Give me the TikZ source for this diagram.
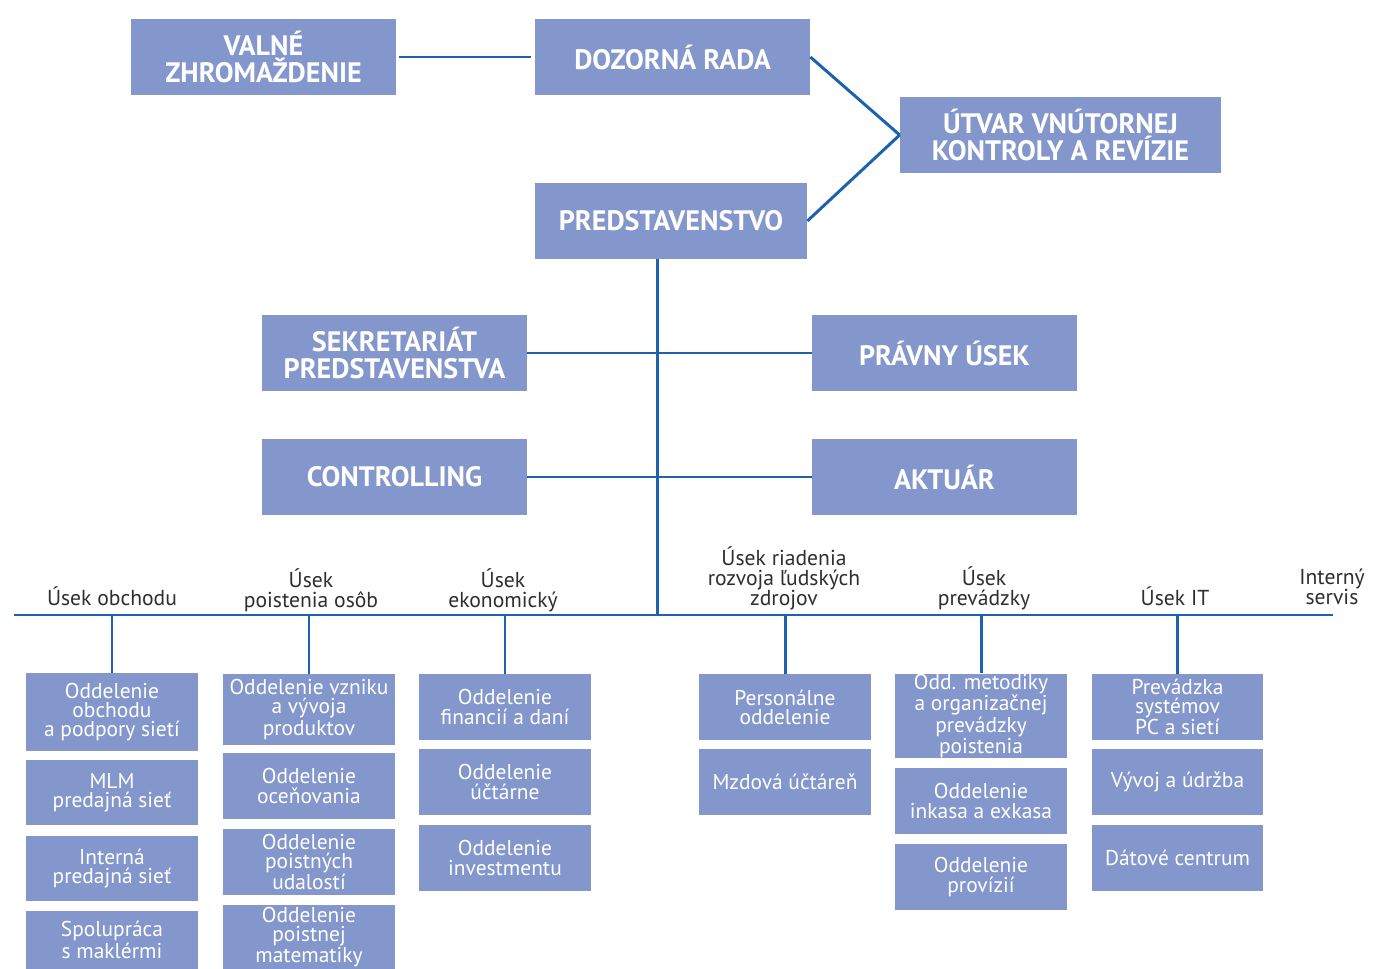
\documentclass[tikz,border=0pt]{standalone}
\usepackage{fontspec}
\setmainfont{PT Sans}
\usetikzlibrary{calc}
\definecolor{boxfill}{HTML}{8497CD}
\definecolor{linkblue}{HTML}{1E62AF}
\definecolor{labeldark}{HTML}{2E2E2E}
\newcommand{\headfont}{\fontsize{16}{15.3}\selectfont\bfseries}
\newcommand{\deptfont}{\fontsize{12.2}{10.9}\selectfont}
\newcommand{\usekfont}{\fontsize{12.3}{11.4}\selectfont}

\begin{document}
\begin{tikzpicture}[
    x=0.02cm, y=-0.02cm,
    headbox/.style={fill=boxfill, text=white, font=\headfont, align=center,
        inner sep=0pt, minimum width=5.3cm, minimum height=1.52cm},
    deptbox/.style={fill=boxfill, text=white, font=\deptfont, align=center,
        inner sep=0pt, minimum width=3.44cm},
    usek/.style={text=labeldark, font=\usekfont, align=center,
        anchor=south, inner sep=0pt, text depth=0pt},
    link/.style={linkblue, line width=1.7pt}
]

\useasboundingbox (0,0) rectangle (1373,969);

% Board level
\node[headbox] (valne) at (263.5,57) {VALNÉ\\ZHROMAŽDENIE};
\node[headbox, minimum width=5.5cm] (dozorna) at (672.5,57) {DOZORNÁ RADA};
\node[headbox, minimum width=6.42cm] (utvar) at (1060.5,135) {ÚTVAR VNÚTORNEJ\\KONTROLY A REVÍZIE};
\node[headbox, minimum width=5.44cm] (predst) at (671,221) {PREDSTAVENSTVO};

\draw[link, shorten <=0.06cm, shorten >=0.08cm] (valne) -- (dozorna);
\draw[link] (dozorna.east) -- (utvar.west);
\draw[link] (predst.east) -- (utvar.west);

% Staff units
\node[headbox] (sekret) at (394.5,353) {SEKRETARIÁT\\PREDSTAVENSTVA};
\node[headbox] (pravny) at (944.5,353) {PRÁVNY ÚSEK};
\node[headbox] (controlling) at (394.5,477) {CONTROLLING};
\node[headbox] (aktuar) at (944.5,477) {AKTUÁR};

\draw[link] (sekret) -- (pravny);
\draw[link] (controlling) -- (aktuar);

% Trunk and bus
\coordinate (trunk) at (657,615);
\coordinate (busL) at (14,615);
\coordinate (busR) at (1333,615);
\draw[link] (predst.south -| trunk) -- (trunk);
\draw[link] (busL) -- (busR);

% Divisions
\node[usek] (u1) at (112,606) {Úsek obchodu};
\node[usek] (u2) at (311,608) {Úsek\\poistenia osôb};
\node[usek] (u3) at (503,608) {Úsek\\ekonomický};
\node[usek] (u4) at (784,606) {Úsek riadenia\\rozvoja ľudských\\zdrojov};
\node[usek] (u5) at (984,606) {Úsek\\prevádzky};
\node[usek] (u6) at (1175,606) {Úsek IT};
\node[usek] (u7) at (1332,605) {Interný\\servis};

% Departments
\node[deptbox, minimum height=1.56cm] (d11) at (112,712) {Oddelenie\\obchodu\\a podpory sietí};
\node[deptbox, minimum height=1.30cm] (d12) at (112,792.5) {MLM\\predajná sieť};
\node[deptbox, minimum height=1.30cm] (d13) at (112,868.5) {Interná\\predajná sieť};
\node[deptbox, minimum height=1.16cm] (d14) at (112,940) {Spolupráca\\s maklérmi};

\node[deptbox, minimum height=1.42cm] (d21) at (309,709.5) {Oddelenie vzniku\\a vývoja\\produktov};
\node[deptbox, minimum height=1.32cm] (d22) at (309,786) {Oddelenie\\oceňovania};
\node[deptbox, minimum height=1.32cm] (d23) at (309,862) {Oddelenie\\poistných\\udalostí};
\node[deptbox, minimum height=1.28cm] (d24) at (309,937) {Oddelenie\\poistnej\\matematiky};

\node[deptbox, minimum height=1.32cm] (d31) at (505,707) {Oddelenie\\financií a daní};
\node[deptbox, minimum height=1.32cm] (d32) at (505,782) {Oddelenie\\účtárne};
\node[deptbox, minimum height=1.32cm] (d33) at (505,858) {Oddelenie\\investmentu};

\node[deptbox, minimum height=1.32cm] (d41) at (785,707) {Personálne\\oddelenie};
\node[deptbox, minimum height=1.32cm] (d42) at (785,782) {Mzdová účtáreň};

\node[deptbox, minimum height=1.68cm] (d51) at (981,716) {Odd. metodiky\\a organizačnej\\prevádzky\\poistenia};
\node[deptbox, minimum height=1.32cm] (d52) at (981,801) {Oddelenie\\inkasa a exkasa};
\node[deptbox, minimum height=1.32cm] (d53) at (981,877) {Oddelenie\\provízií};

\node[deptbox, minimum height=1.32cm] (d61) at (1177.5,707) {Prevádzka\\systémov\\PC a sietí};
\node[deptbox, minimum height=1.32cm] (d62) at (1177.5,782) {Vývoj a údržba};
\node[deptbox, minimum height=1.32cm] (d63) at (1177.5,858) {Dátové centrum};

% Drops from bus
\foreach \d in {d11,d21,d31,d41,d51,d61}
    \draw[link] (\d.north |- busL) -- (\d.north);

\end{tikzpicture}
\end{document}
